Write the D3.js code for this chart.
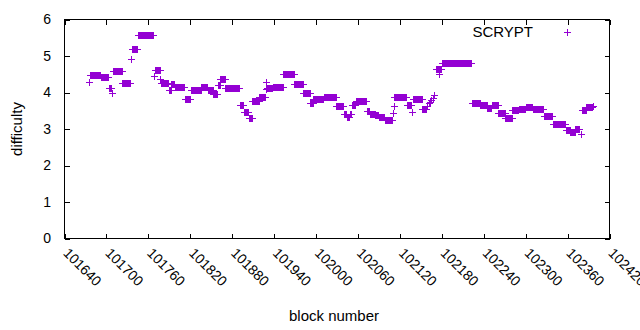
<!DOCTYPE html>
<html>
<head>
<meta charset="utf-8">
<script src="https://cdn.jsdelivr.net/npm/d3@7"></script>
<style>
  body { margin: 0; background: #fff; }
  text { font-family: "Liberation Sans", Arial, sans-serif; fill: #000; }
</style>
</head>
<body>
<svg id="chart"></svg>
<script>
// difficulty is constant over runs of blocks: run start, run end, value
const runStart = [101675,101676,101692,101703,101708,101709,101723,101735,101736,101745,
  101768,101769,101777,101778,101789,101793,101798,101812,101821,101836,
  101845,101853,101859,101863,101870,101891,101897,101904,101909,101919,
  101928,101929,101930,101938,101953,101969,101982,101992,101996,102011,
  102029,102040,102044,102048,102051,102057,102073,102077,102085,102090,
  102098,102110,102111,102112,102130,102137,102139,102152,102159,102161,
  102163,102165,102167,102169,102171,102176,102180,102223,102235,102245,
  102252,102261,102271,102281,102290,102300,102310,102326,102339,102358,
  102364,102371,102379,102380,102387,102396]
const runEnd = [101675,101691,101702,101707,101708,101722,101734,101735,101744,101767,
  101768,101776,101777,101788,101792,101797,101811,101820,101835,101844,
  101852,101858,101862,101869,101890,101896,101903,101908,101918,101927,
  101928,101929,101937,101952,101968,101981,101991,101995,102010,102028,
  102039,102043,102047,102050,102056,102072,102076,102084,102089,102097,
  102109,102110,102111,102129,102136,102137,102151,102157,102159,102161,
  102163,102165,102167,102169,102179,102176,102222,102234,102244,102251,
  102260,102270,102280,102289,102299,102309,102325,102338,102357,102363,
  102370,102377,102379,102386,102395,102396]
const difficulty = [4.29,4.47,4.43,4.12,3.99,4.58,4.25,4.91,5.18,5.57,
  4.45,4.63,4.36,4.25,4.06,4.22,4.14,3.81,4.06,4.16,
  4.08,3.95,4.20,4.36,4.11,3.67,3.47,3.29,3.78,3.88,
  4.09,4.29,4.11,4.14,4.52,4.22,3.99,3.72,3.81,3.88,
  3.63,3.42,3.33,3.42,3.65,3.76,3.50,3.40,3.38,3.33,
  3.26,3.43,3.63,3.87,3.67,3.47,3.81,3.56,3.64,3.70,
  3.75,3.80,3.86,3.93,4.64,4.52,4.80,3.71,3.66,3.58,
  3.65,3.43,3.29,3.52,3.56,3.61,3.56,3.36,3.15,2.97,
  2.91,2.99,2.86,3.52,3.61,3.63]

const xTicks = [101640,101700,101760,101820,101880,101940,102000,102060,102120,102180,102240,102300,102360,102420]
const yTicks = [0,1,2,3,4,5,6]
const seriesName = "SCRYPT"

const width = 640, height = 330
const color = "#9400d3"

const svg = d3.select("#chart")
  .attr("width", width)
  .attr("height", height)

const x = d3.scaleLinear().domain([101640, 102420]).range([64.5, 609.5])
const y = d3.scaleLinear().domain([0, 6]).range([238.5, 19.5])

// one point per block
const points = []
runStart.forEach(function(s, i) {
  for (let b = s; b <= runEnd[i]; b++) points.push([b, difficulty[i]])
})

const plus = "M-3.5,0H3.5M0,-3.5V3.5"

svg.append("g")
  .selectAll("path")
  .data(points)
  .enter().append("path")
  .attr("d", plus)
  .attr("transform", function(d) { return `translate(${Math.round(x(d[0])) + 0.5},${Math.round(y(d[1])) + 0.5})` })
  .attr("stroke", color)
  .attr("stroke-width", 1)
  .attr("fill", "none")

// frame with inward ticks on all sides
const axisStyle = function(g) {
  g.select(".domain").remove()
  g.selectAll("line").attr("stroke", "#000").attr("shape-rendering", "crispEdges")
  g.selectAll("text").remove()
}

svg.append("g").attr("transform", "translate(0,238.5)")
  .call(d3.axisBottom(x).tickValues(xTicks).tickSize(-5)).call(axisStyle)
svg.append("g").attr("transform", "translate(0,19.5)")
  .call(d3.axisTop(x).tickValues(xTicks).tickSize(-5)).call(axisStyle)
svg.append("g").attr("transform", "translate(64.5,0)")
  .call(d3.axisLeft(y).tickValues(yTicks).tickSize(-5)).call(axisStyle)
svg.append("g").attr("transform", "translate(609.5,0)")
  .call(d3.axisRight(y).tickValues(yTicks).tickSize(-5)).call(axisStyle)

svg.append("rect")
  .attr("x", 64.5).attr("y", 19.5)
  .attr("width", 545).attr("height", 219)
  .attr("fill", "none").attr("stroke", "#000").attr("stroke-width", 1)
  .attr("shape-rendering", "crispEdges")

svg.append("g").selectAll("text")
  .data(yTicks)
  .enter().append("text")
  .attr("x", 51)
  .attr("y", function(d) { return y(d) })
  .attr("dy", "0.35em")
  .attr("text-anchor", "end")
  .attr("font-size", 14)
  .text(function(d) { return d })

svg.append("g").selectAll("text")
  .data(xTicks)
  .enter().append("text")
  .attr("transform", function(d) { return `translate(${x(d) - 2},254) rotate(45)` })
  .attr("font-size", 14)
  .text(function(d) { return d })

svg.append("text")
  .attr("transform", "translate(22,129) rotate(-90)")
  .attr("text-anchor", "middle")
  .attr("font-size", 15)
  .text("difficulty")

svg.append("text")
  .attr("x", 334).attr("y", 321)
  .attr("text-anchor", "middle")
  .attr("font-size", 15)
  .text("block number")

// legend
svg.append("text")
  .attr("x", 533).attr("y", 37)
  .attr("text-anchor", "end")
  .attr("font-size", 15)
  .text(seriesName)

svg.append("path")
  .attr("d", plus)
  .attr("transform", "translate(567.5,32.5)")
  .attr("stroke", color)
  .attr("fill", "none")
</script>
</body>
</html>
